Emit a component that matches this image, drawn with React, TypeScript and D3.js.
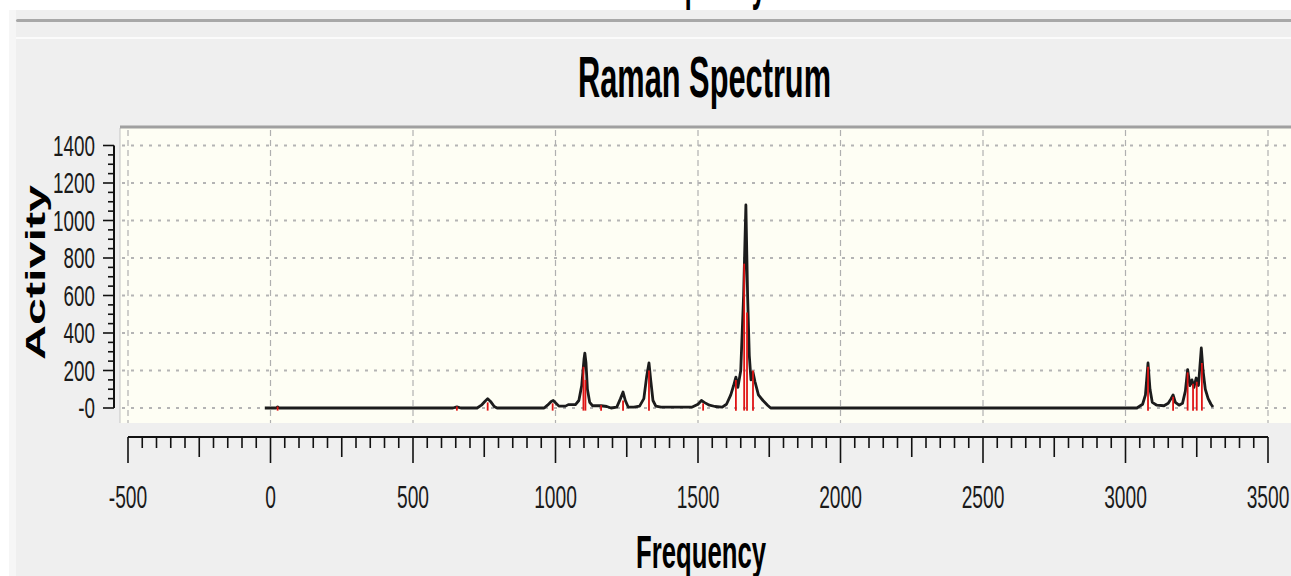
import React, { useEffect, useRef } from 'react';
import * as d3 from 'd3';

// Spectrum envelope (frequency, activity)
const lineFreq = [
  -20, 20, 25, 30, 640, 654, 668, 725, 740, 752, 762, 772, 785, 795,
  960, 972, 985, 992, 1000, 1012, 1035, 1045, 1070, 1082, 1092, 1100, 1103, 1107, 1112, 1120,
  1130, 1160, 1180, 1195, 1215, 1228, 1237, 1245, 1255, 1275, 1295, 1310, 1320, 1328, 1334,
  1342, 1352, 1370, 1480, 1500, 1512, 1522, 1540, 1560, 1585, 1600, 1615, 1625, 1633, 1640,
  1650, 1660, 1668, 1674, 1680, 1686, 1693, 1700, 1712, 1728, 1744, 1755,
  3040, 3060, 3070, 3079, 3086, 3094, 3110, 3135, 3150, 3160, 3167, 3175, 3188, 3200, 3210,
  3218, 3226, 3233, 3240, 3248, 3256, 3266, 3272, 3280, 3290, 3300, 3307,
];
const lineActivity = [
  0, 0, 6, 0, 0, 6, 0, 0, 15, 35, 50, 35, 8, 0,
  0, 15, 35, 40, 28, 10, 10, 18, 18, 40, 120, 260, 293, 240, 100, 30,
  12, 12, 8, 0, 5, 50, 85, 40, 5, 5, 10, 50, 170, 240, 150,
  40, 10, 5, 5, 20, 40, 30, 15, 8, 5, 20, 70, 120, 165, 110,
  200, 600, 1083, 600, 280, 150, 190, 140, 70, 40, 15, 0,
  0, 20, 70, 240, 100, 30, 15, 12, 25, 50, 70, 30, 15, 25, 90,
  205, 120, 150, 110, 160, 120, 320, 200, 100, 50, 20, 5,
];

// Red stick lines (individual modes)
const stickFreq = [25, 654, 762, 990, 1098, 1105, 1160, 1237, 1328, 1518, 1633, 1662, 1672, 1693, 3079, 3167, 3218, 3237, 3250, 3268];
const stickActivity = [8, 8, 30, 25, 220, 150, 15, 40, 200, 25, 150, 770, 510, 200, 220, 60, 190, 130, 140, 240];

const xMajor = [-500, 0, 500, 1000, 1500, 2000, 2500, 3000, 3500];
const xLabels = ['-500', '0', '500', '1000', '1500', '2000', '2500', '3000', '3500'];
const yMajor = [0, 200, 400, 600, 800, 1000, 1200, 1400];
const yLabels = ['-0', '200', '400', '600', '800', '1000', '1200', '1400'];

const W = 1291;
const H = 576;

const App: React.FC = () => {
  const svgRef = useRef<SVGSVGElement>(null);

  useEffect(() => {
    if (!svgRef.current) return;
    const svg = d3.select(svgRef.current);
    svg.selectAll('*').remove();

    const x = d3.scaleLinear().domain([-500, 3500]).range([128, 1268]);
    const y = d3.scaleLinear().domain([0, 1400]).range([408, 145.5]);

    const plot = { left: 120, top: 128, right: W, bottom: 423 };
    const font = "'Liberation Sans', Arial, sans-serif";

    // window chrome
    svg.append('rect').attr('width', W).attr('height', H).attr('fill', '#efefef');
    svg.append('rect').attr('width', W).attr('height', 10).attr('fill', '#ffffff');
    svg.append('rect').attr('width', 9).attr('height', H).attr('fill', '#ffffff');
    svg.append('rect').attr('x', 9).attr('y', 10).attr('width', 7).attr('height', H).attr('fill', '#f6f6f6');
    svg.append('rect').attr('x', 16).attr('y', 19).attr('width', W).attr('height', 3).attr('rx', 1.5).attr('fill', '#a8a8a8');
    svg.append('rect').attr('x', 16).attr('y', 37).attr('width', W).attr('height', 2).attr('fill', '#fbfbfb');

    // descenders of the chart above, cut off by the window
    svg.append('text')
      .attr('x', 636).attr('y', -2)
      .attr('font-family', font).attr('font-weight', 'bold').attr('font-size', 56)
      .attr('textLength', 130).attr('lengthAdjust', 'spacingAndGlyphs')
      .attr('fill', '#000').text('Frequency');

    // title
    svg.append('text')
      .attr('x', 578).attr('y', 97)
      .attr('font-family', font).attr('font-weight', 'bold').attr('font-size', 58)
      .attr('textLength', 253).attr('lengthAdjust', 'spacingAndGlyphs')
      .attr('fill', '#000').text('Raman Spectrum');

    // plot background + frame
    svg.append('rect')
      .attr('x', plot.left).attr('y', plot.top)
      .attr('width', plot.right - plot.left).attr('height', plot.bottom - plot.top)
      .attr('fill', '#fefef4');
    svg.append('line')
      .attr('x1', plot.left).attr('x2', plot.left).attr('y1', plot.top).attr('y2', plot.bottom)
      .attr('stroke', '#c4c4c4').attr('stroke-width', 1);
    svg.append('line')
      .attr('x1', plot.left).attr('x2', plot.right).attr('y1', plot.top - 1).attr('y2', plot.top - 1)
      .attr('stroke', '#a0a0a0').attr('stroke-width', 3);

    // grid
    svg.append('g').selectAll('line').data(xMajor).enter().append('line')
      .attr('x1', (d) => x(d)).attr('x2', (d) => x(d))
      .attr('y1', plot.top + 2).attr('y2', plot.bottom)
      .attr('stroke', '#b0b0b0').attr('stroke-width', 1.2).attr('stroke-dasharray', '6,4');
    svg.append('g').selectAll('line').data(yMajor).enter().append('line')
      .attr('x1', plot.left + 2).attr('x2', plot.right)
      .attr('y1', (d) => y(d)).attr('y2', (d) => y(d))
      .attr('stroke', '#b4b4b4').attr('stroke-width', 2).attr('stroke-dasharray', '3,6');

    // spectrum envelope
    const pts: [number, number][] = lineFreq.map((f, i) => [f, lineActivity[i]]);
    const line = d3.line<[number, number]>()
      .x((d) => x(d[0]))
      .y((d) => y(d[1]));
    svg.append('path')
      .datum(pts)
      .attr('d', line)
      .attr('fill', 'none')
      .attr('stroke', '#1c1c1c')
      .attr('stroke-width', 2.8)
      .attr('stroke-linejoin', 'round');

    // red sticks
    svg.append('g').selectAll('line').data(stickFreq).enter().append('line')
      .attr('x1', (d) => x(d)).attr('x2', (d) => x(d))
      .attr('y1', y(-14)).attr('y2', (d, i) => y(stickActivity[i]))
      .attr('stroke', '#e01414').attr('stroke-width', 1.8);

    // y axis
    const yAxisX = 114;
    svg.append('line')
      .attr('x1', yAxisX).attr('x2', yAxisX).attr('y1', y(1400)).attr('y2', y(0))
      .attr('stroke', '#111').attr('stroke-width', 2);
    svg.append('g').selectAll('line').data(d3.range(0, 1401, 50)).enter().append('line')
      .attr('x1', (d) => (d % 200 === 0 ? yAxisX - 11 : yAxisX - 6)).attr('x2', yAxisX)
      .attr('y1', (d) => y(d)).attr('y2', (d) => y(d))
      .attr('stroke', '#111').attr('stroke-width', 1.6);
    svg.append('g').selectAll('text').data(yMajor).enter().append('text')
      .attr('transform', (d) => `translate(95,${y(d) + 10}) scale(0.65,1)`)
      .attr('text-anchor', 'end')
      .attr('font-family', font).attr('font-size', 29)
      .attr('fill', '#1a1a1a')
      .text((d, i) => yLabels[i]);
    svg.append('text')
      .attr('transform', 'translate(45,360) rotate(-90)')
      .attr('font-family', font).attr('font-weight', 'bold').attr('font-size', 28)
      .attr('textLength', 175).attr('lengthAdjust', 'spacingAndGlyphs')
      .attr('fill', '#000').text('Activity');

    // x axis
    const xAxisY = 437;
    svg.append('line')
      .attr('x1', x(-500)).attr('x2', x(3500)).attr('y1', xAxisY).attr('y2', xAxisY)
      .attr('stroke', '#111').attr('stroke-width', 2);
    svg.append('g').selectAll('line').data(d3.range(-500, 3501, 50)).enter().append('line')
      .attr('x1', (d) => x(d)).attr('x2', (d) => x(d))
      .attr('y1', xAxisY)
      .attr('y2', (d) => (d % 500 === 0 ? xAxisY + 26 : d % 250 === 0 ? xAxisY + 20 : xAxisY + 11))
      .attr('stroke', '#111').attr('stroke-width', 1.6);
    svg.append('g').selectAll('text').data(xMajor).enter().append('text')
      .attr('transform', (d) => `translate(${x(d)},508) scale(0.6,1)`)
      .attr('text-anchor', 'middle')
      .attr('font-family', font).attr('font-size', 32)
      .attr('fill', '#1a1a1a')
      .text((d, i) => xLabels[i]);
    svg.append('text')
      .attr('x', 636).attr('y', 568)
      .attr('font-family', font).attr('font-weight', 'bold').attr('font-size', 46)
      .attr('textLength', 130).attr('lengthAdjust', 'spacingAndGlyphs')
      .attr('fill', '#000').text('Frequency');
  }, []);

  return (
    <svg
      ref={svgRef}
      width={W}
      height={H}
      style={{ position: 'absolute', left: 0, top: 0, display: 'block' }}
    />
  );
};

export default App;
